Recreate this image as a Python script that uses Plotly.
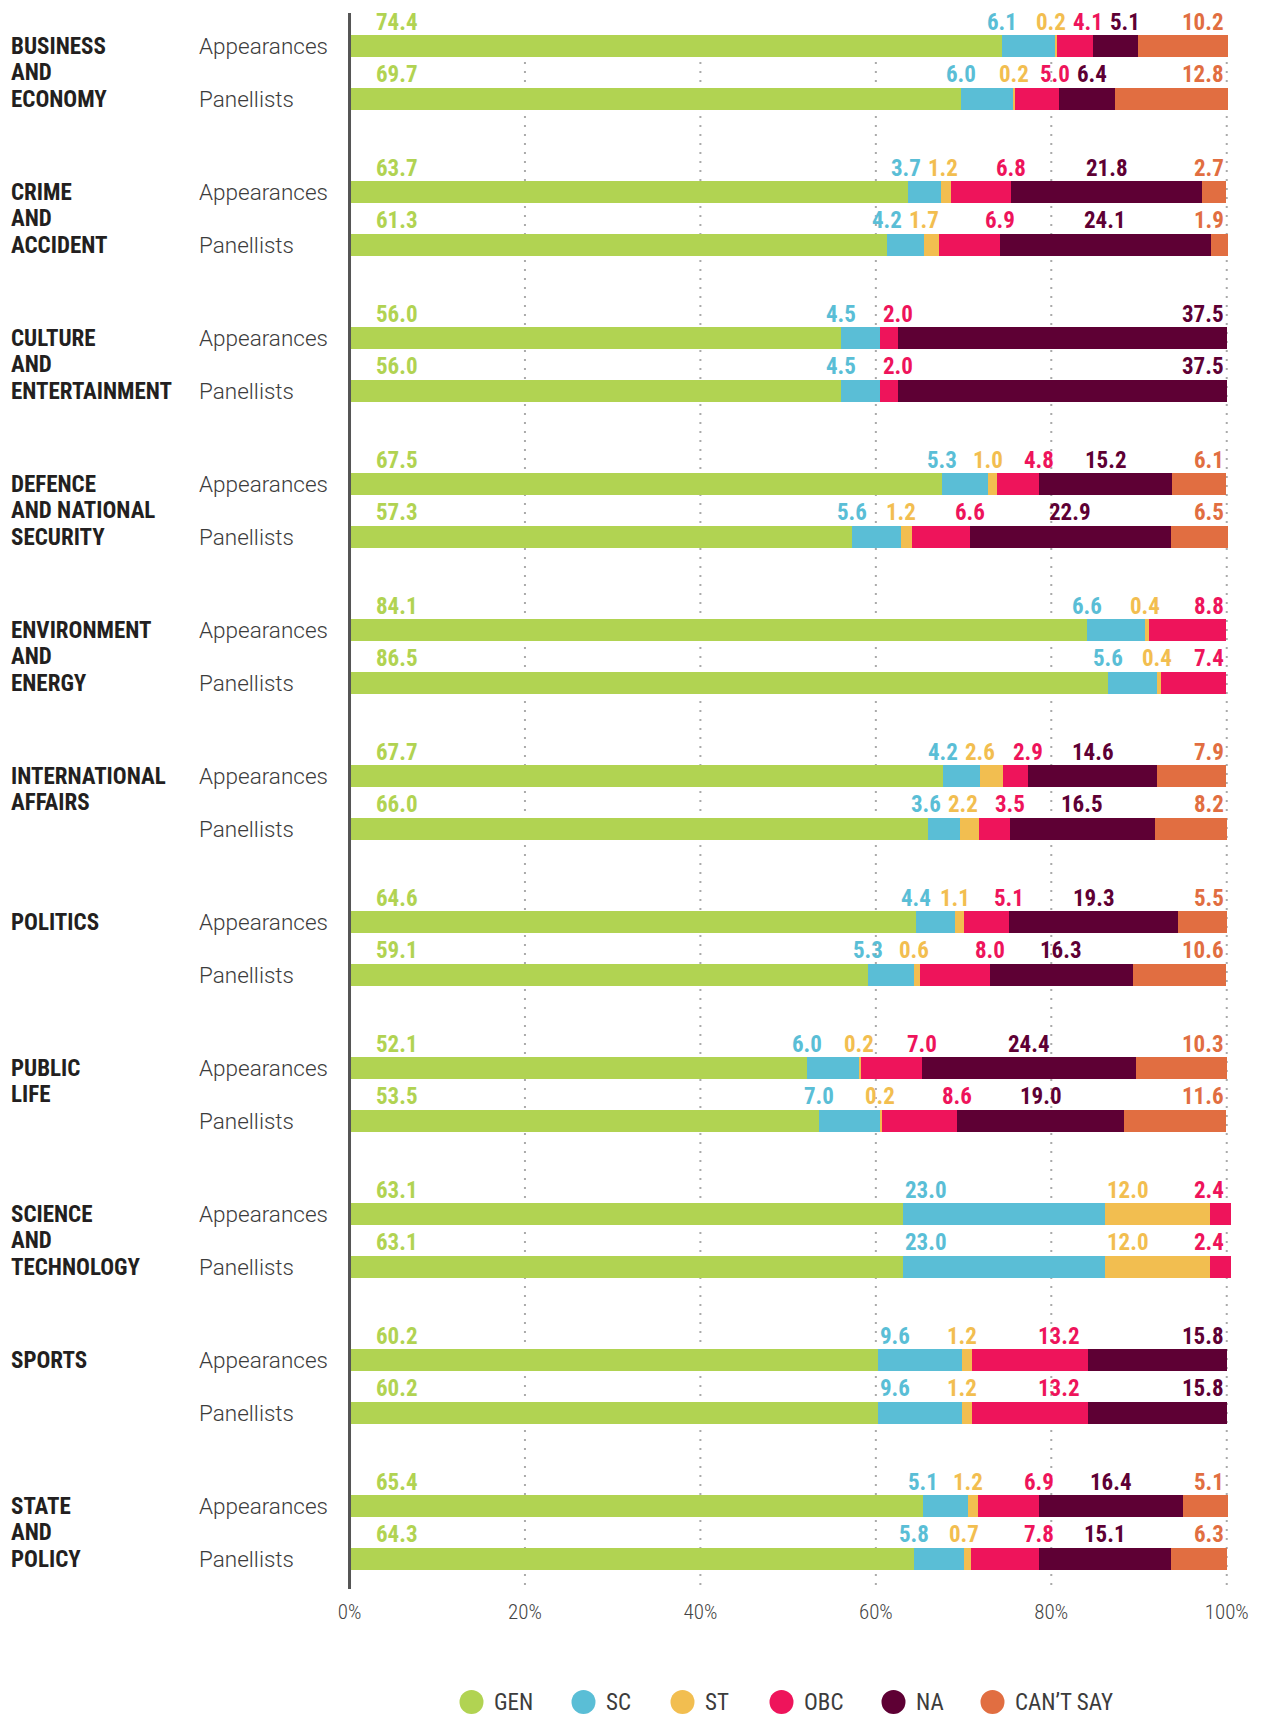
import plotly.graph_objects as go

# ---------------- data ----------------
categories = [
    "BUSINESS<br>AND<br>ECONOMY",
    "CRIME<br>AND<br>ACCIDENT",
    "CULTURE<br>AND<br>ENTERTAINMENT",
    "DEFENCE<br>AND NATIONAL<br>SECURITY",
    "ENVIRONMENT<br>AND<br>ENERGY",
    "INTERNATIONAL<br>AFFAIRS",
    "POLITICS",
    "PUBLIC<br>LIFE",
    "SCIENCE<br>AND<br>TECHNOLOGY",
    "SPORTS",
    "STATE<br>AND<br>POLICY",
]
row_names = ["Appearances", "Panellists"]
series_names = ["GEN", "SC", "ST", "OBC", "NA", "CAN’T SAY"]
series_colors = ["#B1D352", "#5ABED6", "#F2BE50", "#EE145B", "#5E0034", "#E16E41"]

gen_app = [74.4, 63.7, 56.0, 67.5, 84.1, 67.7, 64.6, 52.1, 63.1, 60.2, 65.4]
gen_pan = [69.7, 61.3, 56.0, 57.3, 86.5, 66.0, 59.1, 53.5, 63.1, 60.2, 64.3]
sc_app = [6.1, 3.7, 4.5, 5.3, 6.6, 4.2, 4.4, 6.0, 23.0, 9.6, 5.1]
sc_pan = [6.0, 4.2, 4.5, 5.6, 5.6, 3.6, 5.3, 7.0, 23.0, 9.6, 5.8]
st_app = [0.2, 1.2, None, 1.0, 0.4, 2.6, 1.1, 0.2, 12.0, 1.2, 1.2]
st_pan = [0.2, 1.7, None, 1.2, 0.4, 2.2, 0.6, 0.2, 12.0, 1.2, 0.7]
obc_app = [4.1, 6.8, 2.0, 4.8, 8.8, 2.9, 5.1, 7.0, 2.4, 13.2, 6.9]
obc_pan = [5.0, 6.9, 2.0, 6.6, 7.4, 3.5, 8.0, 8.6, 2.4, 13.2, 7.8]
na_app = [5.1, 21.8, 37.5, 15.2, None, 14.6, 19.3, 24.4, None, 15.8, 16.4]
na_pan = [6.4, 24.1, 37.5, 22.9, None, 16.5, 16.3, 19.0, None, 15.8, 15.1]
cs_app = [10.2, 2.7, None, 6.1, None, 7.9, 5.5, 10.3, None, None, 5.1]
cs_pan = [12.8, 1.9, None, 6.5, None, 8.2, 10.6, 11.6, None, None, 6.3]

tick_vals = [0, 20, 40, 60, 80, 100]
tick_text = ["0%", "20%", "40%", "60%", "80%", "100%"]

series_app = [gen_app, sc_app, st_app, obc_app, na_app, cs_app]
series_pan = [gen_pan, sc_pan, st_pan, obc_pan, na_pan, cs_pan]

# ---------------- layout constants (canvas px; page has an 8px body margin) ----------------
W, H = 1253, 1707
X0_PX, X100_PX = 342, 1219          # canvas px of 0% and 100%
PLOT_TOP, PLOT_BOTTOM = 5, 1581
XMIN, XMAX = -0.4, 100.6
PXU = (X100_PX - X0_PX) / 100.0
ML = round(X0_PX + XMIN * PXU)
MR = W - round(X100_PX + (XMAX - 100) * PXU)
MT, MB = PLOT_TOP, H - PLOT_BOTTOM
PW = W - ML - MR
PH = PLOT_BOTTOM - PLOT_TOP
ROW0, GROUP_STEP, ROW_STEP = 38, 146, 52.5
BAR_W = 22
LABEL_DY = 24
CAT_LINE = 26.8

COND_FONT = "Roboto Condensed, Roboto, sans-serif"
LIGHT_FONT = "Roboto, Lato, sans-serif"
GRID_COLOR = "#AAAAAA"


def xpx(v):
    return ML + (v - XMIN) / (XMAX - XMIN) * PW


def px_to_x(px):
    return XMIN + (px - ML) / PW * (XMAX - XMIN)


def px_to_paper_x(px):
    return (px - ML) / PW


def px_to_paper_y(py):
    return (PLOT_BOTTOM - py) / PH


def est_w(txt):
    return sum(6 if ch == "." else 12 for ch in txt)


def legend_w(txt):
    return sum(6 if ch == " " else 5 if ch == "’" else 13 for ch in txt)


ys, xs_by_series = [], [[] for _ in range(6)]
rows = []
for g in range(len(categories)):
    for r, src in enumerate((series_app, series_pan)):
        y = ROW0 + g * GROUP_STEP + r * ROW_STEP
        ys.append(y)
        vals = [src[s][g] for s in range(6)]
        rows.append((y, vals))
        for s in range(6):
            xs_by_series[s].append(vals[s])

fig = go.Figure()
for s in range(6):
    fig.add_trace(go.Bar(
        x=xs_by_series[s], y=ys, orientation="h", width=BAR_W,
        marker=dict(color=series_colors[s], line=dict(width=0)),
        name=series_names[s], showlegend=False,
        hovertemplate=series_names[s] + ": %{x:.1f}<extra></extra>",
    ))

annotations = []


def layout_labels(vals):
    starts, ends, c = [], [], 0.0
    for v in vals:
        starts.append(c)
        c += (v or 0)
        ends.append(c)
    labs = []
    for i in range(1, 6):
        v = vals[i]
        if not v:
            continue
        txt = f"{v:.1f}"
        w = est_w(txt)
        s, e = xpx(starts[i]), xpx(ends[i])
        if i in (1, 2):
            cx = s + w / 2 + 2 if v > 8 else s
        elif i == 3:
            cx = e - w / 2 - 8 if v > 10 else e
        elif i == 4:
            cx = (s + e) / 2 if vals[5] else e - w / 2
        else:
            cx = e - w / 2
        labs.append([cx, w, i, txt])
    gap = 7
    right_lim = xpx(100) - 3
    for _ in range(300):
        for k in range(len(labs) - 1):
            a, b = labs[k], labs[k + 1]
            need = (a[1] + b[1]) / 2 + gap
            d = b[0] - a[0]
            if d < need:
                sh = (need - d) / 2
                a[0] -= sh
                b[0] += sh
        last = labs[-1]
        if last[0] + last[1] / 2 > right_lim:
            last[0] = right_lim - last[1] / 2
    return labs


NUM_SIZE = 23
for y, vals in rows:
    annotations.append(dict(
        x=px_to_x(xpx(0) + 24), y=y - LABEL_DY, xref="x", yref="y",
        text=f"{vals[0]:.1f}", showarrow=False, xanchor="left", yanchor="middle",
        font=dict(family=COND_FONT, size=NUM_SIZE, color=series_colors[0], weight="bold"),
    ))
    for cx, w, i, txt in layout_labels(vals):
        annotations.append(dict(
            x=px_to_x(cx), y=y - LABEL_DY, xref="x", yref="y",
            text=txt, showarrow=False, xanchor="center", yanchor="middle",
            font=dict(family=COND_FONT, size=NUM_SIZE, color=series_colors[i], weight="bold"),
        ))

for g, cat in enumerate(categories):
    y_app = ROW0 + g * GROUP_STEP
    for k, line in enumerate(cat.split("<br>")):
        annotations.append(dict(
            x=px_to_paper_x(1), y=y_app + k * CAT_LINE, xref="paper", yref="y",
            text=line, showarrow=False, xanchor="left", yanchor="middle", align="left",
            font=dict(family=COND_FONT, size=23, color="#231F20", weight="bold"),
        ))
    for r, rn in enumerate(row_names):
        annotations.append(dict(
            x=px_to_paper_x(189), y=y_app + r * ROW_STEP, xref="paper", yref="y",
            text=rn, showarrow=False, xanchor="left", yanchor="middle",
            font=dict(family=LIGHT_FONT, size=22.5, color="#3C3C3C", weight=300),
        ))

shapes = []
# dotted vertical guides, starting at the first bar
for tv in tick_vals[1:]:
    shapes.append(dict(type="line", xref="x", yref="y", x0=tv, x1=tv,
                       y0=ROW0 - BAR_W / 2, y1=PLOT_BOTTOM,
                       line=dict(color=GRID_COLOR, width=2, dash="2px,7px"), layer="below"))
shapes.append(dict(type="line", xref="x", yref="paper", x0=0, x1=0, y0=0, y1=1,
                   line=dict(color="#555555", width=3), layer="above"))

item_w = [22 + legend_w(n) for n in series_names]
LEG_GAP = 51
total = 12 + sum(item_w) + LEG_GAP * (len(item_w) - 1)
cur = 780 - total / 2 + 12
leg_y = px_to_paper_y(1694)
for s, n in enumerate(series_names):
    shapes.append(dict(
        type="circle", xref="paper", yref="paper", xsizemode="pixel", ysizemode="pixel",
        xanchor=px_to_paper_x(cur), yanchor=leg_y, x0=-12, x1=12, y0=-12, y1=12,
        fillcolor=series_colors[s], line=dict(width=0),
    ))
    annotations.append(dict(
        x=px_to_paper_x(cur + 20), y=leg_y, xref="paper", yref="paper",
        text=n, showarrow=False, xanchor="left", yanchor="middle",
        font=dict(family=COND_FONT, size=23, color="#3C3C3C"),
    ))
    cur += item_w[s] + LEG_GAP

fig.update_layout(
    width=W, height=H,
    margin=dict(l=ML, r=MR, t=MT, b=MB, pad=0),
    barmode="stack", bargap=0,
    plot_bgcolor="white", paper_bgcolor="white",
    showlegend=False,
    annotations=annotations, shapes=shapes,
    xaxis=dict(
        range=[XMIN, XMAX], tickmode="array", tickvals=tick_vals, ticktext=tick_text,
        showgrid=False, zeroline=False, showline=False, ticks="", ticklabelstandoff=8,
        tickfont=dict(family=COND_FONT, size=21, color="#444444", weight=300),
        fixedrange=True,
    ),
    yaxis=dict(
        range=[PLOT_BOTTOM, PLOT_TOP], showgrid=False, zeroline=False, showline=False,
        showticklabels=False, ticks="", fixedrange=True,
    ),
)

fig.write_html("out.html")
